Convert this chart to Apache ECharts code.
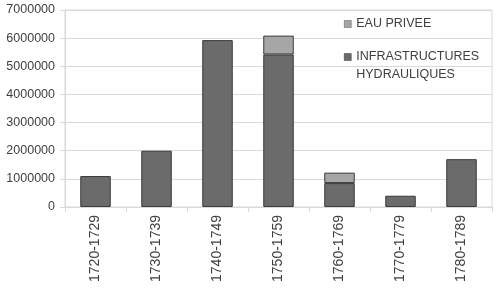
<!DOCTYPE html>
<html>
<head>
<meta charset="utf-8">
<script src="https://cdn.jsdelivr.net/npm/echarts@6/dist/echarts.min.js"></script>
<style>
html, body { margin: 0; padding: 0; background: #fff; }
#chart { width: 497px; height: 292px; }
</style>
</head>
<body>
<div id="chart"></div>
<script>
var periods = ['1720-1729', '1730-1739', '1740-1749', '1750-1759', '1760-1769', '1770-1779', '1780-1789'];
var infrastructures = [1100000, 2000000, 5930000, 5420000, 850000, 400000, 1700000];
var eauPrivee = [null, null, null, 670000, 370000, null, null];
var yTicks = [0, 1000000, 2000000, 3000000, 4000000, 5000000, 6000000, 7000000];

var chart = echarts.init(document.getElementById('chart'));
var option = {
    animation: false,
    textStyle: { fontFamily: 'Liberation Sans, Arial, sans-serif' },
    grid: {
        left: 65, right: 5, top: 10, bottom: 85,
        show: true, borderColor: '#d9d9d9', borderWidth: 1
    },
    legend: {
        orient: 'vertical',
        left: 339,
        top: 10,
        itemWidth: 7,
        itemHeight: 7,
        itemGap: -3,
        icon: 'rect',
        textStyle: { fontSize: 12.5, color: '#404040', lineHeight: 18 },
        // blank first line keeps the icon level with the first text line
        formatter: function (name) {
            return name.indexOf('\n') > -1 ? ' \n' + name : name;
        },
        data: [
            { name: 'EAU PRIVEE', itemStyle: { borderColor: '#555', borderWidth: 0.5 } },
            { name: 'INFRASTRUCTURES\nHYDRAULIQUES', itemStyle: { borderColor: '#333', borderWidth: 0.5 } }
        ]
    },
    xAxis: {
        type: 'category',
        data: periods,
        axisLine: { lineStyle: { color: '#d9d9d9' } },
        axisTick: { show: true, length: 5, lineStyle: { color: '#d9d9d9' } },
        axisLabel: { rotate: 90, color: '#404040', fontSize: 14, margin: 8 }
    },
    yAxis: {
        type: 'value',
        min: yTicks[0],
        max: yTicks[yTicks.length - 1],
        interval: 1000000,
        axisLine: { show: true, lineStyle: { color: '#d9d9d9' } },
        axisTick: { show: true, length: 5, lineStyle: { color: '#d9d9d9' } },
        splitLine: { lineStyle: { color: '#d9d9d9' } },
        axisLabel: {
            color: '#404040', fontSize: 12.5, margin: 10,
            formatter: function (v) { return String(v); }
        }
    },
    series: [
        {
            name: 'INFRASTRUCTURES\nHYDRAULIQUES',
            type: 'bar',
            stack: 'total',
            barWidth: '50%',
            data: infrastructures,
            itemStyle: { color: '#6b6b6b', borderColor: '#3a3a3a', borderWidth: 1 }
        },
        {
            name: 'EAU PRIVEE',
            type: 'bar',
            stack: 'total',
            data: eauPrivee,
            itemStyle: { color: '#a6a6a6', borderColor: '#3a3a3a', borderWidth: 1 }
        }
    ]
};
chart.setOption(option);
</script>
</body>
</html>
